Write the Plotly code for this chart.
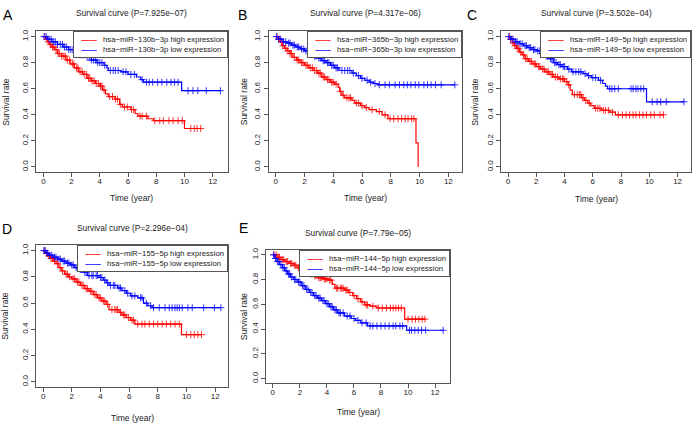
import numpy as np
import plotly.graph_objects as go

# panel A  hsa-miR-130b-3p
a_hi_t = [0, 0.15, 0.3, 0.45, 0.6, 0.8, 1.0, 1.3, 1.6, 1.9, 2.2, 2.5, 2.8, 3.1, 3.4, 3.7, 4.0, 4.2, 4.4, 4.6,
          5.1, 5.4, 5.6, 6.2, 6.5, 6.7, 7.4, 7.8, 10.0]
a_hi_s = [1.0, 0.98, 0.96, 0.94, 0.92, 0.90, 0.87, 0.85, 0.82, 0.79, 0.76, 0.73, 0.71, 0.68, 0.66, 0.64, 0.62,
          0.59, 0.56, 0.54, 0.52, 0.48, 0.46, 0.44, 0.41, 0.39, 0.37, 0.355, 0.295]
a_hi_c = [0.1, 0.25, 0.35, 0.5, 0.65, 0.75, 0.9, 1.05, 1.15, 1.3, 1.45, 1.55, 1.7, 1.85, 2.05, 2.15, 2.35, 2.45,
          2.6, 2.75, 2.9, 3.05, 3.2, 3.3, 3.45, 3.6, 3.75, 3.9, 4.05, 4.15, 4.3, 4.7, 4.9, 5.1, 5.25, 5.45, 5.75,
          5.95, 6.25, 6.4, 6.85, 7.0, 7.3, 7.9, 8.25, 8.5, 8.9, 9.2, 9.55, 9.85, 10.45, 10.7, 10.9, 11.15]
a_lo_t = [0, 0.3, 0.6, 1.0, 1.4, 1.8, 2.2, 2.6, 3.0, 3.4, 3.8, 4.3, 4.5, 4.6, 5.5, 6.0, 6.6, 6.9, 7.1, 9.8]
a_lo_s = [1.0, 0.98, 0.96, 0.94, 0.92, 0.90, 0.88, 0.86, 0.84, 0.82, 0.80, 0.78, 0.76, 0.74, 0.73, 0.71, 0.69,
          0.67, 0.65, 0.585]
a_lo_c = [0.05, 0.2, 0.4, 0.55, 0.7, 0.85, 1.0, 1.2, 1.35, 1.5, 1.65, 1.8, 1.95, 2.1, 2.3, 2.45, 2.6, 2.75, 2.9,
          3.1, 3.25, 3.4, 3.55, 3.7, 3.85, 4.0, 4.15, 4.35, 4.75, 4.95, 5.1, 5.3, 5.65, 5.85, 6.2, 6.45, 7.0, 7.3,
          7.5, 7.75, 8.1, 8.4, 8.75, 9.05, 9.3, 9.55, 10.25, 10.6, 10.95, 11.55, 12.55]

# panel B  hsa-miR-365b-3p
b_hi_t = [0, 0.15, 0.3, 0.45, 0.6, 0.8, 1.0, 1.2, 1.45, 1.7, 2.0, 2.3, 2.6, 2.9, 3.2, 3.5, 3.8, 4.1, 4.35, 4.45,
          4.6, 4.8, 5.3, 5.5, 5.9, 6.2, 6.5, 7.0, 7.4, 7.8, 9.75, 9.9]
b_hi_s = [1.0, 0.98, 0.96, 0.93, 0.91, 0.89, 0.87, 0.84, 0.82, 0.80, 0.78, 0.76, 0.74, 0.72, 0.69, 0.67, 0.65,
          0.635, 0.61, 0.58, 0.55, 0.53, 0.51, 0.49, 0.47, 0.455, 0.44, 0.425, 0.40, 0.37, 0.185, 0.0]
b_hi_c = [0.1, 0.25, 0.4, 0.5, 0.7, 0.85, 1.0, 1.1, 1.3, 1.5, 1.6, 1.8, 1.9, 2.1, 2.2, 2.4, 2.55, 2.7, 2.85, 3.0,
          3.1, 3.3, 3.4, 3.6, 3.7, 3.9, 4.0, 4.2, 4.5, 4.7, 4.95, 5.1, 5.2, 5.6, 5.75, 6.0, 6.3, 6.7, 7.2, 7.6,
          7.95, 8.2, 8.5, 8.75, 9.0, 9.2, 9.45, 9.6]
b_lo_t = [0, 0.2, 0.5, 0.8, 1.1, 1.4, 1.7, 2.0, 2.3, 2.6, 2.9, 3.2, 3.5, 3.8, 4.1, 4.4, 5.3, 5.6, 5.9, 6.2, 6.5,
          6.8, 7.1]
b_lo_s = [1.0, 0.98, 0.96, 0.95, 0.935, 0.92, 0.905, 0.89, 0.87, 0.85, 0.835, 0.815, 0.80, 0.78, 0.76, 0.74,
          0.72, 0.70, 0.68, 0.665, 0.65, 0.64, 0.63]
b_lo_c = [0.05, 0.2, 0.35, 0.55, 0.7, 0.9, 1.0, 1.2, 1.3, 1.5, 1.6, 1.8, 1.95, 2.1, 2.25, 2.4, 2.5, 2.7, 2.8, 3.0,
          3.1, 3.3, 3.4, 3.6, 3.7, 3.9, 4.0, 4.2, 4.3, 4.6, 4.8, 5.0, 5.15, 5.4, 5.75, 6.0, 6.35, 6.6, 6.9, 7.2,
          7.6, 7.9, 8.3, 8.6, 8.9, 9.15, 9.4, 9.7, 9.95, 10.3, 10.55, 10.8, 11.1, 11.5, 12.45]

# panel C  hsa-miR-149-5p
c_hi_t = [0, 0.15, 0.3, 0.45, 0.6, 0.8, 1.0, 1.2, 1.45, 1.7, 2.0, 2.3, 2.6, 2.9, 3.2, 3.6, 4.0, 4.25, 4.4, 4.55,
          5.2, 5.4, 5.65, 5.85, 6.1, 6.6, 7.2, 7.6]
c_hi_s = [1.0, 0.98, 0.95, 0.93, 0.91, 0.88, 0.86, 0.83, 0.81, 0.79, 0.77, 0.75, 0.73, 0.71, 0.69, 0.675, 0.655,
          0.63, 0.59, 0.555, 0.53, 0.51, 0.49, 0.47, 0.45, 0.435, 0.42, 0.40]
c_hi_c = [0.1, 0.2, 0.35, 0.5, 0.65, 0.75, 0.9, 1.1, 1.25, 1.35, 1.55, 1.65, 1.85, 1.95, 2.15, 2.25, 2.45, 2.55,
          2.75, 2.85, 3.05, 3.15, 3.35, 3.5, 3.7, 3.85, 3.95, 4.15, 4.3, 4.7, 4.9, 5.05, 5.15, 5.3, 5.5, 5.75,
          6.2, 6.35, 6.5, 6.75, 6.9, 7.1, 7.4, 7.8, 8.1, 8.35, 8.6, 8.85, 9.05, 9.3, 9.55, 9.8, 10.1, 10.35,
          10.75, 11.0]
c_lo_t = [0, 0.2, 0.5, 0.8, 1.1, 1.4, 1.7, 2.0, 2.3, 2.6, 2.9, 3.2, 3.5, 3.8, 4.2, 4.5, 5.3, 5.6, 5.9, 6.4, 6.7,
          6.9, 7.05, 9.8]
c_lo_s = [1.0, 0.98, 0.96, 0.945, 0.93, 0.915, 0.90, 0.89, 0.87, 0.85, 0.83, 0.80, 0.785, 0.77, 0.75, 0.73,
          0.715, 0.70, 0.685, 0.665, 0.64, 0.62, 0.60, 0.50]
c_lo_c = [0.05, 0.2, 0.35, 0.55, 0.65, 0.85, 1.0, 1.2, 1.3, 1.5, 1.6, 1.8, 1.9, 2.1, 2.25, 2.4, 2.5, 2.7, 2.8,
          3.0, 3.1, 3.3, 3.4, 3.6, 3.7, 3.9, 4.0, 4.3, 4.6, 4.8, 5.0, 5.15, 5.45, 5.7, 6.0, 6.2, 6.55, 7.2, 7.35,
          7.55, 7.8, 8.7, 8.85, 9.05, 9.2, 9.4, 9.6, 10.2, 10.55, 10.8, 11.2, 12.45]

# panel D  hsa-miR-155-5p
d_hi_t = [0, 0.15, 0.3, 0.5, 0.7, 0.9, 1.1, 1.3, 1.5, 1.75, 2.0, 2.3, 2.6, 2.9, 3.2, 3.5, 3.8, 4.1, 4.4, 4.6,
          5.3, 5.5, 5.8, 6.1, 6.4, 9.65]
d_hi_s = [1.0, 0.98, 0.96, 0.94, 0.92, 0.90, 0.87, 0.845, 0.82, 0.80, 0.785, 0.76, 0.735, 0.71, 0.69, 0.665,
          0.64, 0.615, 0.59, 0.55, 0.53, 0.51, 0.49, 0.47, 0.44, 0.36]
d_hi_c = [0.1, 0.25, 0.4, 0.55, 0.65, 0.8, 1.0, 1.2, 1.35, 1.6, 1.7, 1.85, 2.1, 2.2, 2.4, 2.5, 2.7, 2.8, 3.0,
          3.1, 3.3, 3.4, 3.6, 3.7, 3.9, 4.0, 4.2, 4.3, 4.5, 4.8, 5.0, 5.1, 5.2, 5.4, 5.6, 5.7, 5.95, 6.2, 6.3,
          6.6, 6.9, 7.1, 7.4, 7.7, 8.0, 8.3, 8.6, 8.9, 9.2, 9.5, 10.0, 10.3, 10.55, 10.8, 11.05]
d_lo_t = [0, 0.2, 0.4, 0.7, 1.0, 1.3, 1.6, 1.9, 2.2, 2.5, 2.8, 3.1, 3.9, 4.2, 4.4, 4.6, 5.2, 5.5, 5.8, 6.1, 6.6,
          7.0, 7.3, 7.6]
d_lo_s = [1.0, 0.98, 0.965, 0.95, 0.935, 0.92, 0.905, 0.89, 0.87, 0.855, 0.835, 0.81, 0.795, 0.775, 0.755,
          0.735, 0.715, 0.695, 0.675, 0.655, 0.64, 0.60, 0.58, 0.565]
d_lo_c = [0.05, 0.15, 0.3, 0.45, 0.6, 0.8, 0.9, 1.1, 1.2, 1.4, 1.5, 1.7, 1.8, 2.0, 2.1, 2.3, 2.4, 2.6, 2.7, 2.9,
          3.0, 3.2, 3.4, 3.5, 3.7, 3.8, 4.0, 4.1, 4.3, 4.5, 4.7, 4.9, 5.0, 5.3, 5.4, 5.7, 5.9, 6.2, 6.4, 6.8,
          6.9, 7.2, 7.5, 7.7, 8.1, 8.5, 8.8, 9.0, 9.2, 9.35, 9.5, 9.7, 10.1, 10.4, 11.2, 11.95, 12.4]

# panel E  hsa-miR-144-5p
e_hi_t = [0, 0.3, 0.6, 0.9, 1.2, 1.5, 1.8, 2.1, 2.4, 2.7, 3.0, 3.3, 3.7, 4.1, 4.4, 4.6, 5.3, 5.6, 5.9, 6.2,
          6.5, 6.8, 7.2, 7.7, 9.75]
e_hi_s = [1.0, 0.98, 0.96, 0.945, 0.93, 0.915, 0.895, 0.875, 0.86, 0.845, 0.83, 0.815, 0.805, 0.795, 0.76,
          0.73, 0.715, 0.695, 0.67, 0.645, 0.62, 0.595, 0.585, 0.57, 0.48]
e_hi_c = [0.1, 0.25, 0.4, 0.5, 0.7, 0.8, 1.0, 1.1, 1.3, 1.4, 1.6, 1.7, 1.9, 2.0, 2.2, 2.3, 2.5, 2.6, 2.8, 2.9,
          3.1, 3.2, 3.4, 3.5, 3.6, 3.8, 3.9, 4.0, 4.2, 4.3, 4.7, 4.8, 5.0, 5.1, 5.2, 5.4, 5.5, 5.7, 6.0, 6.3,
          6.6, 6.9, 7.0, 7.4, 7.8, 8.1, 8.4, 8.7, 8.9, 9.1, 9.3, 9.5, 10.0, 10.3, 10.55, 10.8, 11.05, 11.25]
e_lo_t = [0, 0.15, 0.3, 0.5, 0.7, 0.9, 1.1, 1.3, 1.55, 1.8, 2.1, 2.4, 2.7, 3.0, 3.3, 3.6, 3.9, 4.2, 4.5, 4.8,
          5.3, 5.8, 6.1, 6.5, 7.0, 9.9]
e_lo_s = [1.0, 0.97, 0.945, 0.92, 0.895, 0.87, 0.845, 0.82, 0.80, 0.78, 0.75, 0.72, 0.695, 0.67, 0.65, 0.63,
          0.605, 0.58, 0.555, 0.53, 0.505, 0.485, 0.47, 0.45, 0.425, 0.39]
e_lo_c = [0.05, 0.2, 0.35, 0.45, 0.6, 0.75, 0.85, 1.0, 1.15, 1.25, 1.4, 1.6, 1.7, 1.9, 2.0, 2.2, 2.3, 2.5, 2.6,
          2.8, 2.9, 3.1, 3.2, 3.4, 3.5, 3.7, 3.8, 4.0, 4.1, 4.3, 4.4, 4.6, 4.7, 4.9, 5.0, 5.2, 5.5, 5.7, 6.0,
          6.3, 6.6, 6.9, 7.2, 7.4, 7.7, 8.0, 8.3, 8.6, 8.9, 9.1, 9.4, 9.6, 10.1, 10.25, 10.5, 10.75, 11.0, 11.3,
          12.6]

panels = [
    ("A", "hsa−miR−130b−3p", "7.925e−07", (a_hi_t, a_hi_s, a_hi_c), (a_lo_t, a_lo_s, a_lo_c)),
    ("B", "hsa−miR−365b−3p", "4.317e−06", (b_hi_t, b_hi_s, b_hi_c), (b_lo_t, b_lo_s, b_lo_c)),
    ("C", "hsa−miR−149−5p", "3.502e−04", (c_hi_t, c_hi_s, c_hi_c), (c_lo_t, c_lo_s, c_lo_c)),
    ("D", "hsa−miR−155−5p", "2.296e−04", (d_hi_t, d_hi_s, d_hi_c), (d_lo_t, d_lo_s, d_lo_c)),
    ("E", "hsa−miR−144−5p", "7.79e−05", (e_hi_t, e_hi_s, e_hi_c), (e_lo_t, e_lo_s, e_lo_c)),
]

W, H = 700, 423
# plot boxes in pixels: left, right, top, bottom
boxes = [(36.3, 227.5, 29.5, 171), (268.5, 462, 29.5, 171), (501, 691, 29.5, 171),
         (36, 228, 244.5, 387), (266, 450, 249, 383.3)]
# label spots in pixels: letter (x, y), title y, xlabel y, ylabel x
spots = [((8, 13), 11, 197, 6), ((242, 13), 11, 197, 243.5), ((472, 13), 11, 198, 475),
         ((7, 228), 226.7, 418, 5.5), ((243, 227), 232.3, 411.7, 243.5)]

RED, BLUE = "#ff0000", "#0000ff"
TXT = "#222222"
FONT = "Liberation Sans, Arial, sans-serif"
SP = "\u00a0"


def px(x):
    return x / W


def py(y):
    return 1 - y / H


def surv_at(t, s, when):
    idx = np.searchsorted(np.array(t), np.array(when), side="right") - 1
    return np.array(s)[idx]


fig = go.Figure()
annotations = []
for n, (tag, mir, pval, hi, lo) in enumerate(panels, start=1):
    xa, ya = ("x", "y") if n == 1 else ("x%d" % n, "y%d" % n)
    xmax = 0
    for (t, s, cens), col in ((hi, RED), (lo, BLUE)):
        end = max(t[-1], max(cens))
        xmax = max(xmax, end)
        fig.add_trace(go.Scatter(x=t + [end], y=s + [s[-1]], mode="lines", line_shape="hv",
                                 line=dict(color=col, width=1.2), xaxis=xa, yaxis=ya,
                                 showlegend=False, hoverinfo="skip"))
        fig.add_trace(go.Scatter(x=cens, y=surv_at(t, s, cens), mode="markers",
                                 marker=dict(symbol="cross-thin", size=5, line=dict(color=col, width=0.8)),
                                 xaxis=xa, yaxis=ya, showlegend=False, hoverinfo="skip"))

    l, r, tp, bt = boxes[n - 1]
    pad = 0.04 * xmax
    axis_common = dict(showline=True, mirror=True, linecolor="#555", linewidth=1, showgrid=False,
                       zeroline=False, ticks="outside", ticklen=4, tickcolor="#555",
                       tickfont=dict(size=8, color=TXT, family=FONT))
    fig.update_layout({
        "xaxis" + ("" if n == 1 else str(n)): dict(axis_common, domain=[px(l), px(r)],
                                                  range=[-pad, xmax + pad], anchor=ya,
                                                  tickvals=[0, 2, 4, 6, 8, 10, 12], ticklabelstandoff=-3),
        "yaxis" + ("" if n == 1 else str(n)): dict(axis_common, domain=[py(bt), py(tp)],
                                                  range=[-0.04, 1.04], anchor=xa, tickangle=-90,
                                                  tickvals=[0, 0.2, 0.4, 0.6, 0.8, 1.0], tickformat=".1f"),
    })

    (lx, ly), ty, xly, ylx = spots[n - 1]
    cx = (l + r) / 2
    annotations.append(dict(text=tag, x=px(lx), y=py(ly), font=dict(size=14, color="black", family=FONT)))
    annotations.append(dict(text="Survival curve (P=%s)" % pval, x=px(cx), y=py(ty),
                            font=dict(size=8.4, color=TXT, family=FONT)))
    annotations.append(dict(text="Time (year)", x=px(cx), y=py(xly), font=dict(size=8.5, color=TXT, family=FONT)))
    annotations.append(dict(text="Survival rate", x=px(ylx), y=py((tp + bt) / 2), textangle=-90,
                            font=dict(size=8.5, color=TXT, family=FONT)))
    # R-style key: a short coloured rule before each label
    key = ("%s<span style='color:%s'><b>——</b></span>%s%s high expression<br>"
           "%s<span style='color:%s'><b>——</b></span>%s%s low expression") % (
        SP * 2, RED, SP * 3, mir, SP * 2, BLUE, SP * 3, mir)
    annotations.append(dict(text=key, x=px(r), y=py(tp), xanchor="right", yanchor="top", align="left",
                            bordercolor="#555", borderwidth=1, borderpad=3, bgcolor="white",
                            font=dict(size=7.7, color=TXT, family=FONT)))

for a in annotations:
    a.update(xref="paper", yref="paper", showarrow=False)
    a.setdefault("xanchor", "center")
    a.setdefault("yanchor", "middle")

fig.update_layout(width=W, height=H, margin=dict(l=0, r=0, t=0, b=0), paper_bgcolor="white",
                  plot_bgcolor="white", showlegend=False, annotations=annotations,
                  font=dict(family=FONT, color=TXT))
# the page body has a default 8px margin; drop it so the figure sits at the window corner
fig.write_html("out.html", config={"displayModeBar": False},
               post_script="document.body.style.margin='0';")
